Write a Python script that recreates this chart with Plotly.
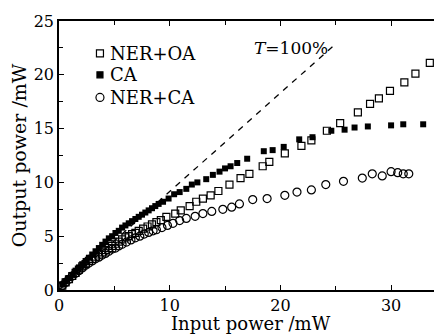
import plotly.graph_objects as go

# NER+OA (open squares)
oa_x = [0.3,0.6,0.9,1.2,1.5,1.8,2.1,2.4,2.7,3.0,3.3,3.6,3.9,4.2,4.5,4.8,5.1,5.4,5.7,6.0,
        6.3,6.6,6.9,7.2,7.6,8.0,8.4,8.8,9.2,9.7,10.5,11.0,11.8,12.4,13.0,13.7,14.4,15.4,16.4,17.2,
        18.4,19.0,20.4,21.9,22.8,24.2,25.4,27.0,28.1,28.9,29.9,31.2,32.2,33.5]
oa_y = [0.4,0.7,1.0,1.3,1.6,1.9,2.2,2.4,2.7,2.9,3.1,3.3,3.5,3.7,3.9,4.1,4.3,4.5,4.7,4.9,
        5.0,5.2,5.3,5.5,5.7,5.9,6.1,6.3,6.5,6.8,7.1,7.4,7.8,8.2,8.5,8.8,9.2,9.8,10.4,10.8,
        11.5,11.9,12.7,13.4,13.9,14.8,15.5,16.5,17.3,17.8,18.5,19.3,20.1,21.1]

# CA (filled squares)
ca_x = [0.3,0.6,0.9,1.2,1.5,1.8,2.1,2.4,2.7,3.0,3.3,3.6,3.9,4.2,4.5,4.8,5.1,5.4,5.7,6.0,
        6.3,6.6,6.9,7.2,7.5,7.8,8.1,8.4,8.7,9.0,9.4,9.9,10.4,10.9,11.5,12.0,12.5,13.3,13.9,14.5,
        15.0,15.5,16.1,17.0,18.5,19.3,20.3,21.7,22.9,24.6,25.8,26.7,27.9,30.0,31.1,32.9]
ca_y = [0.5,0.8,1.1,1.4,1.8,2.1,2.4,2.7,3.0,3.3,3.6,3.9,4.2,4.5,4.8,5.0,5.3,5.5,5.8,6.0,
        6.2,6.4,6.6,6.8,7.0,7.2,7.4,7.6,7.8,8.0,8.2,8.5,8.9,9.1,9.4,9.8,10.0,10.3,10.7,11.0,
        11.3,11.5,11.8,12.2,12.9,13.0,13.3,14.0,14.2,14.8,14.9,15.1,15.2,15.3,15.4,15.4]

# NER+CA (open circles)
nc_x = [0.3,0.6,0.9,1.2,1.5,1.8,2.1,2.4,2.7,3.0,3.3,3.6,3.9,4.2,4.5,4.8,5.1,5.4,5.7,6.1,
        6.5,6.9,7.3,7.7,8.1,8.5,8.8,9.3,9.8,10.3,10.9,11.5,12.3,13.0,13.8,14.8,15.6,16.3,17.5,18.8,
        20.4,21.5,22.8,24.1,25.7,27.4,28.3,29.2,30.0,30.6,31.1,31.6]
nc_y = [0.4,0.7,1.0,1.3,1.55,1.8,2.05,2.3,2.5,2.7,2.9,3.05,3.25,3.4,3.6,3.8,3.9,4.1,4.25,4.45,
        4.65,4.85,5.0,5.2,5.35,5.5,5.6,5.8,6.0,6.2,6.45,6.65,6.85,7.1,7.3,7.5,7.7,8.0,8.4,8.5,
        8.8,9.1,9.3,9.8,10.1,10.4,10.8,10.6,11.0,10.9,10.8,10.8]

# T = 100% reference line
t_x = [0, 24.8]
t_y = [0, 22.7]

# legend labels
legend_labels = ["NER+OA", "CA", "NER+CA"]
x_title = "Input power /mW"
y_title = "Output power /mW"

FONT = "DejaVu Serif"

fig = go.Figure()
fig.add_trace(go.Scatter(x=t_x, y=t_y, mode="lines", showlegend=False,
                         line=dict(color="black", width=1.3, dash="6px,6px")))
fig.add_trace(go.Scatter(x=oa_x, y=oa_y, mode="markers", name=legend_labels[0], showlegend=False,
                         marker=dict(symbol="square-open", size=7, color="black",
                                     line=dict(width=1.2, color="black"))))
fig.add_trace(go.Scatter(x=ca_x, y=ca_y, mode="markers", name=legend_labels[1], showlegend=False,
                         marker=dict(symbol="square", size=6, color="black")))
fig.add_trace(go.Scatter(x=nc_x, y=nc_y, mode="markers", name=legend_labels[2], showlegend=False,
                         marker=dict(symbol="circle-open", size=8, color="black",
                                     line=dict(width=1.2, color="black"))))

fig.add_annotation(x=21.0, y=22.5, text="<i>T</i>=100%", showarrow=False,
                   font=dict(family=FONT, size=17, color="black"))

# manual legend (symbols as pixel-sized shapes, labels as annotations)
leg_sym_x = 3.7
leg_txt_x = 4.4
leg_y = [22.0, 20.0, 17.9]
sym_styles = [
    dict(type="rect", size=7, fill="rgba(0,0,0,0)"),
    dict(type="rect", size=6, fill="black"),
    dict(type="circle", size=8, fill="rgba(0,0,0,0)"),
]
for lab, yy, st in zip(legend_labels, leg_y, sym_styles):
    h = st["size"] / 2
    fig.add_shape(type=st["type"], xref="x", yref="y", xsizemode="pixel", ysizemode="pixel",
                  xanchor=leg_sym_x, yanchor=yy, x0=-h, x1=h, y0=-h, y1=h,
                  line=dict(color="black", width=1.2), fillcolor=st["fill"])
    fig.add_annotation(x=leg_txt_x, y=yy, text=lab, showarrow=False, xanchor="left",
                       yanchor="middle", font=dict(family=FONT, size=18, color="black"))

# x-axis title placed as a paper annotation just below the tick labels
fig.add_annotation(x=0.5, y=0, xref="paper", yref="paper", text=x_title, showarrow=False,
                   xanchor="center", yanchor="middle", yshift=-33, borderpad=0,
                   font=dict(family=FONT, size=18, color="black"))

axis_common = dict(showline=True, linecolor="black", linewidth=1.5,
                   ticks="inside", ticklen=5, tickwidth=1.2, tickcolor="black",
                   showgrid=False, zeroline=False,
                   tickfont=dict(family=FONT, size=16, color="black"))

fig.update_xaxes(range=[0, 34.6], dtick=10, tick0=0, mirror="ticks",
                 minor=dict(ticks="inside", ticklen=4, dtick=5, tickcolor="black", tickwidth=1.2),
                 **axis_common)
fig.update_yaxes(range=[0, 25], dtick=5, tick0=0, mirror=False,
                 minor=dict(ticks="inside", ticklen=4, dtick=2.5, tickcolor="black", tickwidth=1.2),
                 title=dict(text=y_title, font=dict(family=FONT, size=19, color="black")),
                 **axis_common)

fig.update_layout(width=434, height=327,
                  margin=dict(l=51, r=0, t=13, b=45, autoexpand=False),
                  paper_bgcolor="white", plot_bgcolor="white",
                  showlegend=False)

fig.write_html("out.html")
